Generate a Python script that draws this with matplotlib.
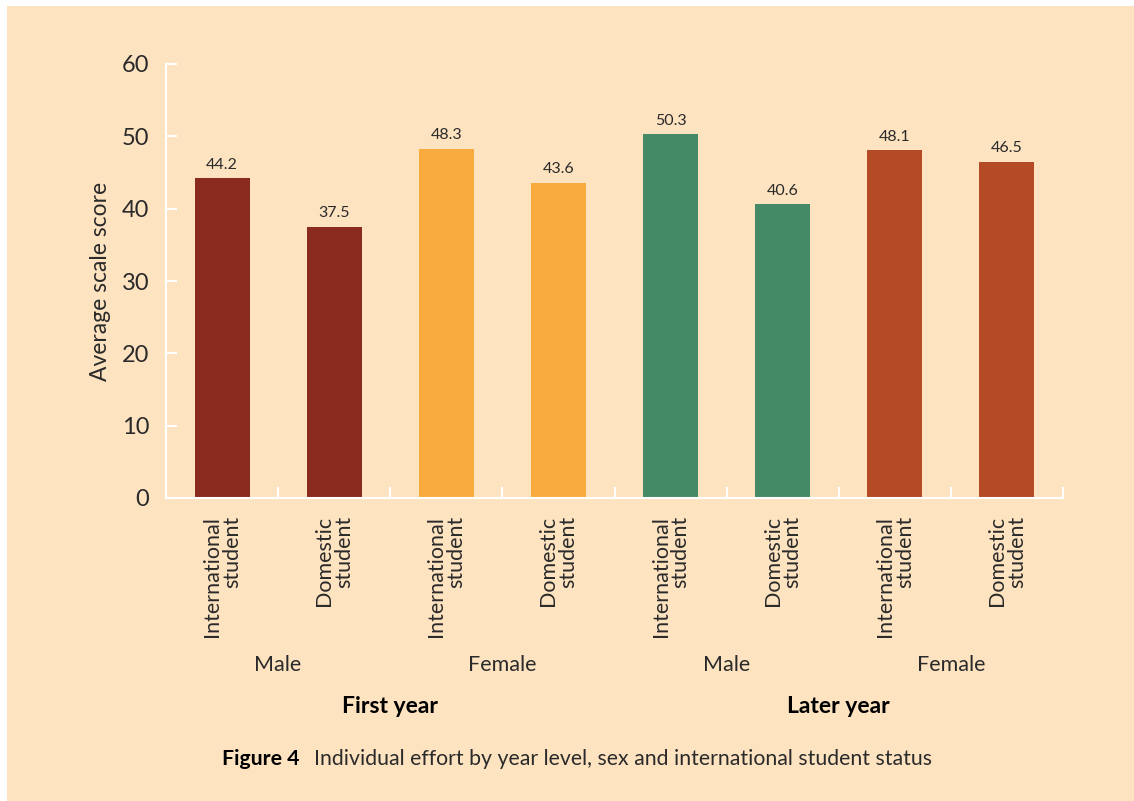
import matplotlib.pyplot as plt
from matplotlib.patches import Rectangle

plt.rcParams['font.family'] = ['Lato', 'DejaVu Sans']

categories = ["International\nstudent", "Domestic\nstudent"] * 4
values = [44.2, 37.5, 48.3, 43.6, 50.3, 40.6, 48.1, 46.5]
colors = ["#8B2A1E", "#8B2A1E", "#F9AC3D", "#F9AC3D",
          "#448A67", "#448A67", "#B54A26", "#B54A26"]
sexes = ["Male", "Female", "Male", "Female"]
years = ["First year", "Later year"]

bg = "#FEE3C1"
txt = "#2a2a2a"

fig = plt.figure(figsize=(11.34, 8.01), dpi=100)
fig.patches.append(Rectangle((7 / 1134, 0), 1, 1 - 6 / 801, transform=fig.transFigure,
                             facecolor=bg, edgecolor="none", zorder=-10))

ax = fig.add_axes([166 / 1134, 1 - 498 / 801, (1063 - 166) / 1134, (498 - 64) / 801])
ax.set_facecolor("none")

xs = [i + 0.5 for i in range(len(values))]
ax.bar(xs, values, width=0.49, color=colors, zorder=2)
for x, v in zip(xs, values):
    ax.text(x, v + 0.9, f"{v:.1f}", ha="center", va="bottom", fontsize=11.5, color=txt)

ax.set_xlim(0, 8)
ax.set_ylim(0, 60)
ax.set_yticks(range(0, 61, 10))
ax.set_xticks(range(1, 9))
ax.set_xticklabels([])
ax.tick_params(axis="y", direction="in", length=8, width=1.5, color="white",
               labelsize=17, labelcolor=txt, pad=12)
ax.tick_params(axis="x", direction="in", length=8, width=1.5, color="white")
for s in ["top", "right"]:
    ax.spines[s].set_visible(False)
for s in ["left", "bottom"]:
    ax.spines[s].set_color("white")
    ax.spines[s].set_linewidth(1.5)
ax.set_ylabel("Average scale score", fontsize=16.5, color=txt, labelpad=8)

tr = ax.get_xaxis_transform()
for x, lab in zip(xs, categories):
    ax.text(x, -0.042, lab, transform=tr, rotation=90, ha="center", va="top",
            multialignment="right", fontsize=15.5, color=txt, linespacing=1.0)
for i, s in enumerate(sexes):
    ax.text(2 * i + 1, -0.385, s, transform=tr, ha="center", va="center",
            fontsize=15.5, color=txt)
for i, y in enumerate(years):
    ax.text(4 * i + 2, -0.48, y, transform=tr, ha="center", va="center",
            fontsize=16.5, fontweight="bold", color="black")

fig.text(222 / 1134, 1 - 759 / 801, "Figure 4", ha="left", va="center",
         fontsize=15.3, fontweight="bold", color="black")
fig.text(314 / 1134, 1 - 759 / 801,
         "Individual effort by year level, sex and international student status",
         ha="left", va="center", fontsize=15.3, color=txt)

fig.savefig("out.png", dpi=100)
